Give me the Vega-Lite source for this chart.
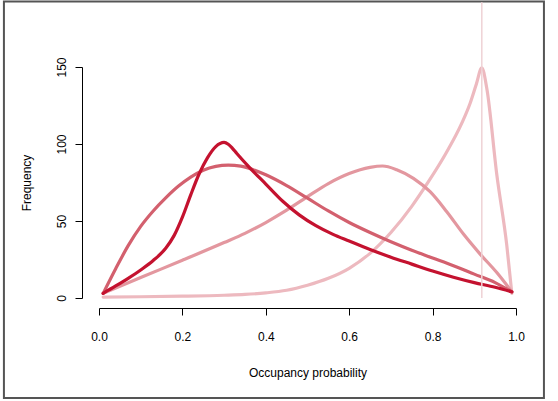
{
  "$schema": "https://vega.github.io/schema/vega-lite/v6.json",
  "width": 417,
  "height": 231,
  "autosize": {"type": "none"},
  "padding": {"left": 99, "top": 67, "right": 42, "bottom": 103},
  "background": "white",
  "config": {
    "view": {"stroke": null},
    "font": "Liberation Sans",
    "axis": {"grid": false, "domainColor": "#000", "tickColor": "#000", "labelColor": "#000", "titleColor": "#000", "labelFont": "Liberation Sans", "titleFont": "Liberation Sans", "labelFontSize": 12, "titleFontSize": 12, "titleFontWeight": "normal", "tickSize": 7, "labelFlush": false, "labelOverlap": false}
  },
  "datasets": {
    "curves": [
      {"series": "D", "x": 0.01, "y": 0.6},
      {"series": "D", "x": 0.1, "y": 0.8},
      {"series": "D", "x": 0.2, "y": 1.2},
      {"series": "D", "x": 0.3, "y": 1.8},
      {"series": "D", "x": 0.35, "y": 2.3},
      {"series": "D", "x": 0.4, "y": 3.3},
      {"series": "D", "x": 0.45, "y": 5},
      {"series": "D", "x": 0.5, "y": 8.3},
      {"series": "D", "x": 0.55, "y": 12.8},
      {"series": "D", "x": 0.6, "y": 19.3},
      {"series": "D", "x": 0.65, "y": 29},
      {"series": "D", "x": 0.7, "y": 42.5},
      {"series": "D", "x": 0.75, "y": 59.5},
      {"series": "D", "x": 0.79, "y": 75.5},
      {"series": "D", "x": 0.83, "y": 93},
      {"series": "D", "x": 0.87, "y": 113.5},
      {"series": "D", "x": 0.89, "y": 126.5},
      {"series": "D", "x": 0.905, "y": 139},
      {"series": "D", "x": 0.918, "y": 149.5},
      {"series": "D", "x": 0.93, "y": 136},
      {"series": "D", "x": 0.954, "y": 80},
      {"series": "D", "x": 0.978, "y": 34},
      {"series": "D", "x": 0.99, "y": 3},
      {"series": "C", "x": 0.01, "y": 3},
      {"series": "C", "x": 0.1, "y": 13.3},
      {"series": "C", "x": 0.2, "y": 24.5},
      {"series": "C", "x": 0.3, "y": 36},
      {"series": "C", "x": 0.35, "y": 42},
      {"series": "C", "x": 0.4, "y": 49},
      {"series": "C", "x": 0.45, "y": 57},
      {"series": "C", "x": 0.5, "y": 65.8},
      {"series": "C", "x": 0.55, "y": 74.3},
      {"series": "C", "x": 0.6, "y": 80.8},
      {"series": "C", "x": 0.65, "y": 84.8},
      {"series": "C", "x": 0.68, "y": 85.7},
      {"series": "C", "x": 0.714, "y": 83.3},
      {"series": "C", "x": 0.754, "y": 77.7},
      {"series": "C", "x": 0.794, "y": 69},
      {"series": "C", "x": 0.834, "y": 56},
      {"series": "C", "x": 0.874, "y": 41.5},
      {"series": "C", "x": 0.914, "y": 28.5},
      {"series": "C", "x": 0.954, "y": 16.5},
      {"series": "C", "x": 0.99, "y": 4},
      {"series": "B", "x": 0.01, "y": 3},
      {"series": "B", "x": 0.04, "y": 19},
      {"series": "B", "x": 0.07, "y": 34},
      {"series": "B", "x": 0.1, "y": 46.5},
      {"series": "B", "x": 0.13, "y": 56.5},
      {"series": "B", "x": 0.16, "y": 65},
      {"series": "B", "x": 0.19, "y": 72.5},
      {"series": "B", "x": 0.22, "y": 78.5},
      {"series": "B", "x": 0.25, "y": 83},
      {"series": "B", "x": 0.28, "y": 85.5},
      {"series": "B", "x": 0.31, "y": 86.3},
      {"series": "B", "x": 0.34, "y": 85.6},
      {"series": "B", "x": 0.37, "y": 83.3},
      {"series": "B", "x": 0.4, "y": 80},
      {"series": "B", "x": 0.45, "y": 73},
      {"series": "B", "x": 0.5, "y": 64.8},
      {"series": "B", "x": 0.55, "y": 56.5},
      {"series": "B", "x": 0.6, "y": 49},
      {"series": "B", "x": 0.65, "y": 42.5},
      {"series": "B", "x": 0.7, "y": 36.5},
      {"series": "B", "x": 0.75, "y": 31},
      {"series": "B", "x": 0.8, "y": 26},
      {"series": "B", "x": 0.85, "y": 21},
      {"series": "B", "x": 0.9, "y": 15.5},
      {"series": "B", "x": 0.95, "y": 10},
      {"series": "B", "x": 0.99, "y": 4},
      {"series": "A", "x": 0.01, "y": 3},
      {"series": "A", "x": 0.04, "y": 7.8},
      {"series": "A", "x": 0.07, "y": 12.8},
      {"series": "A", "x": 0.1, "y": 18.2},
      {"series": "A", "x": 0.13, "y": 24.3},
      {"series": "A", "x": 0.16, "y": 32.3},
      {"series": "A", "x": 0.18, "y": 40.5},
      {"series": "A", "x": 0.2, "y": 52.5},
      {"series": "A", "x": 0.22, "y": 67},
      {"series": "A", "x": 0.24, "y": 80.5},
      {"series": "A", "x": 0.26, "y": 91},
      {"series": "A", "x": 0.28, "y": 98.3},
      {"series": "A", "x": 0.3, "y": 101},
      {"series": "A", "x": 0.31, "y": 99.8},
      {"series": "A", "x": 0.32, "y": 97.2},
      {"series": "A", "x": 0.33, "y": 94},
      {"series": "A", "x": 0.36, "y": 85},
      {"series": "A", "x": 0.4, "y": 74},
      {"series": "A", "x": 0.44, "y": 63},
      {"series": "A", "x": 0.48, "y": 54},
      {"series": "A", "x": 0.52, "y": 47},
      {"series": "A", "x": 0.56, "y": 41.5},
      {"series": "A", "x": 0.6, "y": 37},
      {"series": "A", "x": 0.65, "y": 31.5},
      {"series": "A", "x": 0.7, "y": 26.5},
      {"series": "A", "x": 0.75, "y": 22},
      {"series": "A", "x": 0.8, "y": 17.5},
      {"series": "A", "x": 0.85, "y": 13.5},
      {"series": "A", "x": 0.9, "y": 10},
      {"series": "A", "x": 0.95, "y": 7},
      {"series": "A", "x": 0.99, "y": 4}
    ],
    "marker": [{"x": 0.918, "y": 0, "y2": 192}],
    "frame": [{"x": -0.228, "x2": 1.067, "y": -65, "y2": 192.5}]
  },
  "layer": [
    {
      "data": {"name": "frame"},
      "mark": {"type": "rect", "fill": null, "stroke": "#555555", "strokeWidth": 2},
      "encoding": {
        "x": {"field": "x", "type": "quantitative", "scale": {"domain": [0, 1], "nice": false, "zero": false}, "axis": {"values": [0, 0.2, 0.4, 0.6, 0.8, 1], "format": ".1f", "offset": 10, "labelPadding": 16, "title": "Occupancy probability", "titlePadding": 25}},
        "x2": {"field": "x2"},
        "y": {"field": "y", "type": "quantitative", "scale": {"domain": [0, 150], "nice": false, "zero": false}, "axis": {"values": [0, 50, 100, 150], "offset": 17, "labelAngle": 270, "labelAlign": "center", "labelBaseline": "bottom", "labelPadding": 7, "title": "Frequency", "titlePadding": 22}},
        "y2": {"field": "y2"}
      }
    },
    {
      "data": {"name": "curves"},
      "mark": {"type": "line", "interpolate": "monotone", "strokeWidth": 3.2, "strokeCap": "round", "strokeJoin": "round"},
      "encoding": {
        "x": {"field": "x", "type": "quantitative"},
        "y": {"field": "y", "type": "quantitative"},
        "color": {"field": "series", "type": "nominal", "scale": {"domain": ["A", "B", "C", "D"], "range": ["#C4122F", "#D3606E", "#E3979F", "#EDB9BF"]}, "legend": null},
        "order": {"field": "x", "type": "quantitative"},
        "detail": {"field": "series"}
      }
    },
    {
      "data": {"name": "marker"},
      "mark": {"type": "rule", "color": "#EFD2D5", "strokeWidth": 1.5},
      "encoding": {
        "x": {"field": "x", "type": "quantitative"},
        "y": {"field": "y", "type": "quantitative"},
        "y2": {"field": "y2"}
      }
    }
  ]
}
